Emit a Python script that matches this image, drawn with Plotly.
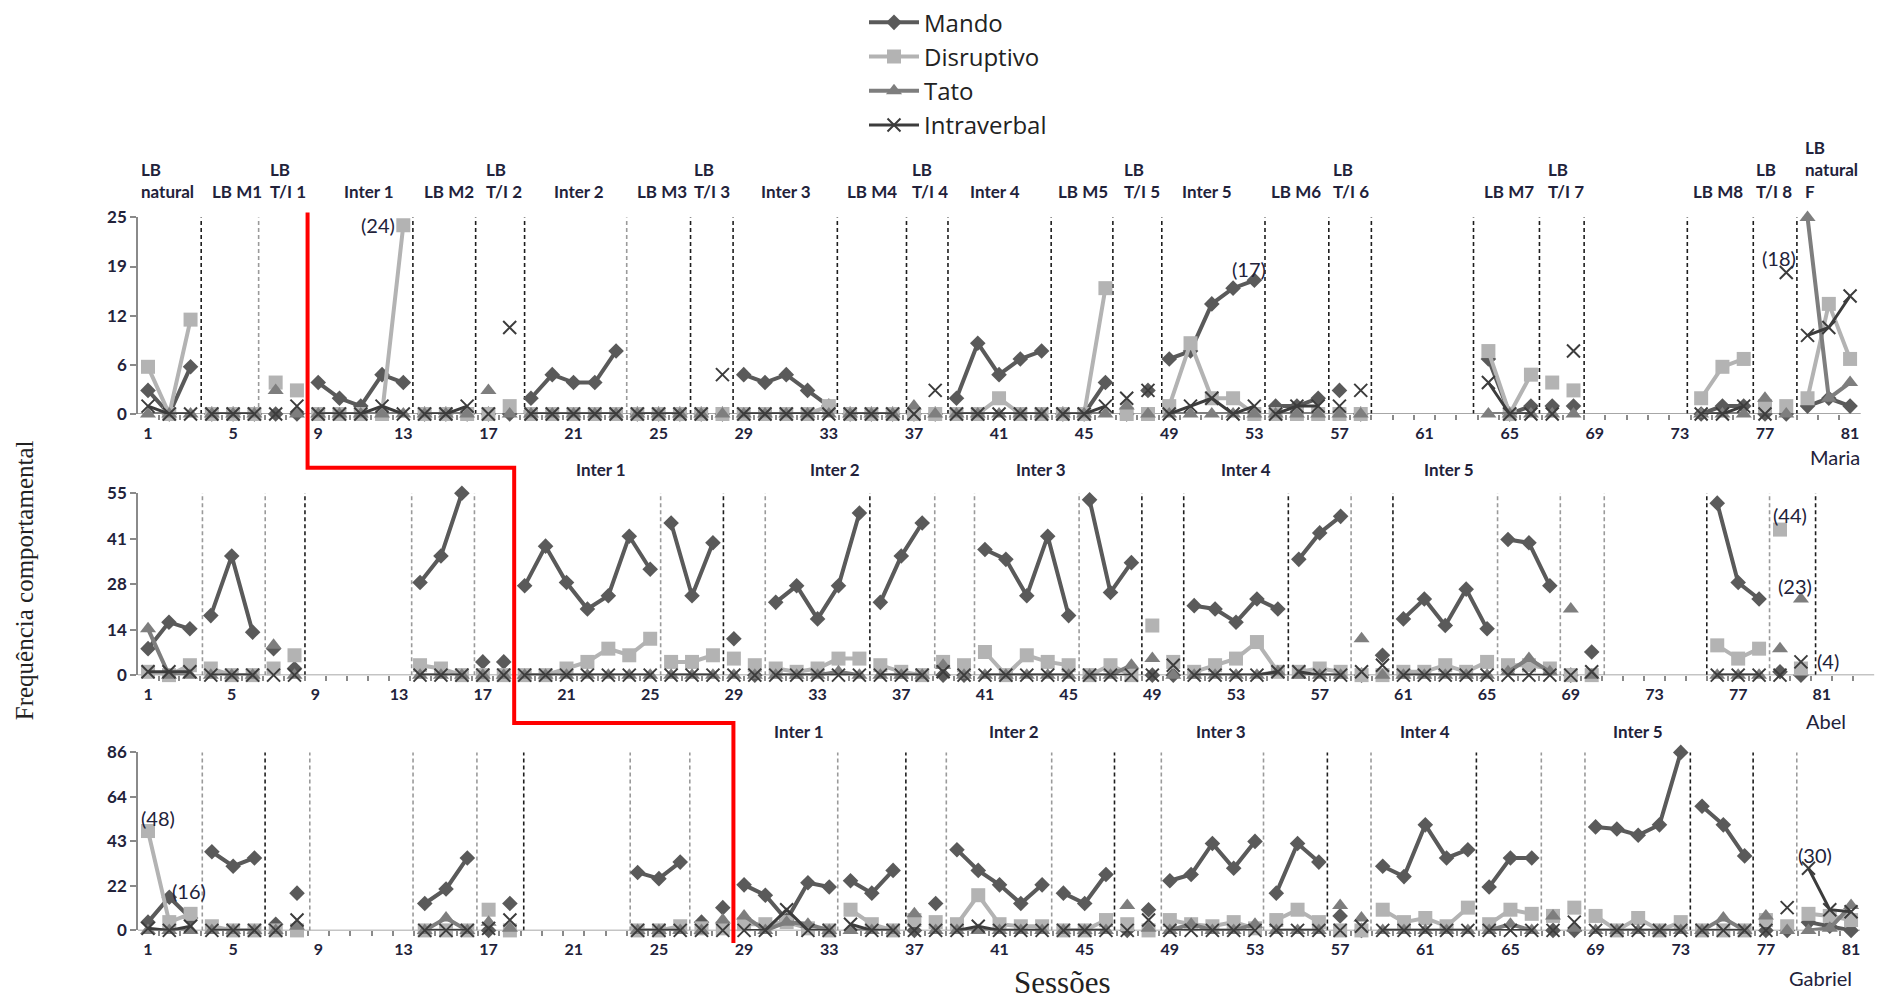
import plotly.graph_objects as go

N = None
W, H = 1891, 1003

sessions = list(range(1, 82))

# ---------------- DATA ----------------
maria_mando = [3,0,6,0,0,0,0,0,4,2, 1,5,4,0,0,0,0,0,2,5, 4,4,8,0,0,0,0,0,5,4,
               5,3,1,0,0,0,0,0,2,9, 5,7,8,0,0,4,0,3,7,8, 14,16,17,1,1,2,3,0,N,N,
               N,N,N,7,0,1,1,1,N,N, N,N,N,0,1,1,0,0,1,2, 1]
maria_disr = [6,0,12,0,0,0,4,3,0,0, 0,0,24,0,0,0,0,1,0,0, 0,0,0,0,0,0,0,0,0,0,
              0,0,1,0,0,0,0,0,0,0, 2,0,0,0,0,16,0,0,1,9, 2,2,0,0,0,0,0,0,N,N,
              N,N,N,8,0,5,4,3,N,N, N,N,N,2,6,7,1,1,2,14, 7]
maria_tato = [0,0,0,0,0,0,3,0,0,0, 0,0,0,0,0,0,3,0,0,0, 0,0,0,0,0,0,0,0,0,0,
              0,0,0,0,0,0,1,0,0,0, 0,0,0,0,0,0,1,0,0,0, 0,0,0,0,0,0,0,0,N,N,
              N,N,N,0,0,0,0,0,N,N, N,N,N,0,0,0,2,0,25,2, 4]
maria_intra = [1,0,0,0,0,0,0,1,0,0, 0,1,0,0,0,1,0,11,0,0, 0,0,0,0,0,0,0,5,0,0,
               0,0,0,0,0,0,0,3,0,0, 0,0,0,0,0,1,2,3,0,1, 2,0,1,0,1,1,1,3,N,N,
               N,N,N,4,0,0,0,8,N,N, N,N,N,0,0,1,0,18,10,11, 15]

abel_mando = [8,16,14,18,36,13,8,2,N,N, N,N,N,28,36,55,4,4,27,39, 28,20,24,42,32,46,24,40,11,0,
              22,27,17,27,49,22,36,46,0,0, 38,35,24,42,18,53,25,34,0,0, 21,20,16,23,20,35,43,48,0,6,
              17,23,15,26,14,41,40,27,0,7, N,N,N,N,N,52,28,23,1,0, N]
abel_disr = [1,0,3,2,0,0,2,6,N,N, N,N,N,3,2,0,0,0,0,0, 2,4,8,6,11,4,4,6,5,3,
             2,1,2,5,5,3,1,0,4,3, 7,0,6,4,3,0,3,0,15,4, 1,3,5,10,1,1,2,1,0,0,
             1,1,3,1,4,3,3,2,0,0, N,N,N,N,N,9,5,8,44,2, N]
abel_tato = [14,0,0,0,0,0,9,0,N,N, N,N,N,0,0,0,0,0,0,0, 0,0,0,0,0,0,0,0,0,0,
             0,0,0,1,0,0,0,0,3,0, 0,0,0,0,0,0,0,3,5,0, 0,0,0,0,1,0,0,0,11,0,
             0,0,0,0,0,1,5,1,20,0, N,N,N,N,N,0,0,0,8,23, N]
abel_intra = [1,1,1,0,0,0,0,0,N,N, N,N,N,0,0,0,0,0,0,0, 0,0,0,0,0,0,0,0,0,0,
              0,0,0,0,0,0,0,0,1,0, 0,0,0,0,0,0,0,0,0,3, 0,0,0,0,1,1,0,0,1,3,
              0,0,0,0,0,0,0,0,0,1, N,N,N,N,N,0,0,0,0,4, N]

gab_mando = [4,16,6,38,31,35,3,18,N,N, N,N,N,13,20,35,0,13,N,N, N,N,N,28,25,33,4,11,22,17,
             5,23,21,24,18,29,0,13,39,29, 22,13,22,18,13,27,0,10,24,27, 42,30,43,18,42,33,7,0,31,26,
             51,35,39,21,35,35,0,0,50,49, 46,51,86,60,51,36,0,0,4,2, 0]
gab_disr = [48,4,8,2,0,0,0,0,N,N, N,N,N,0,0,0,10,0,N,N, N,N,N,0,0,2,1,1,3,3,
            4,1,0,10,3,0,5,4,3,17, 3,2,2,0,0,5,3,0,5,3, 2,4,1,5,10,4,0,0,10,4,
            6,2,11,3,10,8,7,11,7,0, 6,0,4,0,0,0,5,2,8,7, 5]
gab_tato = [0,0,0,0,0,0,0,2,N,N, N,N,N,0,6,0,4,1,N,N, N,N,N,0,0,0,0,5,7,0,
            4,3,0,0,0,0,8,0,0,0, 0,0,0,0,0,0,12,1,0,3, 0,0,3,0,0,0,12,6,0,0,
            0,0,0,0,3,0,7,1,0,0, 0,0,0,0,6,0,7,0,0,1, 12]
gab_intra = [1,0,2,0,0,0,0,5,N,N, N,N,N,0,0,0,1,5,N,N, N,N,N,0,0,0,0,0,0,0,
             10,0,0,3,0,0,0,0,0,2, 0,0,0,0,0,0,0,5,0,0, 0,0,0,0,0,0,0,2,0,0,
             0,0,0,0,0,0,0,4,0,0, 0,0,0,0,0,0,0,11,30,10, 9]

# phase-change lines (session positions) and their tone (k = dark, g = grey)
maria_lines = [3.5, 6.2, 13.45, 16.4, 18.7, 23.5, 26.5, 28.5, 33.4, 36.65, 38.6, 43.45,
               46.35, 48.65, 53.5, 56.5, 58.5, 63.3, 66.4, 68.5, 73.35, 76.45, 78.5]
maria_tone = ['k','g','k','k','k','g','k','k','k','k','k','k','k','k','k','k','k','k','k','k','k','k','k']
abel_lines = [3.6, 6.6, 8.5, 13.6, 16.6, 25.5, 28.5, 30.5, 35.5, 38.6, 40.5, 45.5, 48.5,
              50.5, 55.5, 58.5, 60.5, 65.5, 68.5, 70.6, 75.5, 78.5, 80.7]
abel_tone = ['g','g','k','g','g','g','k','g','k','g','g','g','k','k','k','g','k','g','g','g','k','g','k']
gab_lines = [3.55, 6.5, 8.6, 13.45, 16.45, 18.65, 23.65, 26.45, 33.4, 36.6, 38.5, 43.45,
             46.4, 48.6, 53.4, 56.4, 58.45, 63.4, 66.45, 68.5, 73.45, 76.4, 78.45]
gab_tone = ['g','k','g','g','g','k','g','g','g','k','g','g','k','g','g','k','g','k','g','g','k','k','g']

# red multiple-baseline step (session positions in each panel)
red_steps = [8.5, 18.5, 28.5]

# sessions shown as unconnected points (LB T/I phases)
maria_iso = [7,8,17,18,27,28,37,38,47,48,57,58,67,68,77,78]
abel_iso = [7,8,17,18,29,30,39,40,49,50,59,60,69,70,79,80]
gab_iso = [7,8,17,18,27,28,37,38,47,48,57,58,67,68,77,78]

# phase labels
maria_phase_text = ["LB<br>natural","LB M1","LB<br>T/I 1","Inter 1","LB M2","LB<br>T/I 2","Inter 2",
                    "LB M3","LB<br>T/I 3","Inter 3","LB M4","LB<br>T/I 4","Inter 4","LB M5",
                    "LB<br>T/I 5","Inter 5","LB M6","LB<br>T/I 6","LB M7","LB<br>T/I 7","LB M8",
                    "LB<br>T/I 8","LB<br>natural<br>F"]
maria_phase_x = [0.56, 3.91, 6.63, 10.1, 13.9, 16.8, 20.0, 23.9, 26.55, 29.7, 33.75, 36.8,
                 39.55, 43.7, 46.76, 49.5, 53.7, 56.6, 63.7, 66.7, 73.5, 76.5, 78.8]
inter_text = ["Inter 1","Inter 2","Inter 3","Inter 4","Inter 5"]
abel_inter_x = [22.66, 33.85, 43.66, 53.47, 63.2]
gab_inter_x = [31.6, 41.66, 51.4, 61.0, 71.0]

maria_peaks = [("(24)", 11.8, 24.0), ("(17)", 52.76, 18.5), ("(18)", 77.66, 19.8), ("(25)", 80.44, 25.1)]
abel_peaks = [("(55)", 14.68, 55.3), ("(44)", 79.5, 48.5), ("(23)", 79.7, 26.9), ("(4)", 81.3, 4.4)]
gab_peaks = [("(48)", 1.47, 54.3), ("(16)", 2.93, 18.9), ("(86)", 73.4, 92.2), ("(30)", 79.3, 36.4)]

series_names = ["Mando", "Disruptivo", "Tato", "Intraverbal"]
x_tick_vals = list(range(1, 82, 4))

# ---------------- STYLE ----------------
def fx(p):
    return p / W

def fy(p):
    return 1 - p / H

styles = [
    dict(color="#5a5a5a", symbol="diamond", size=12, lw=4),
    dict(color="#b3b3b3", symbol="square", size=14, lw=4),
    dict(color="#7e7e7e", symbol="triangle-up", size=14, lw=4),
    dict(color="#3c3c3c", symbol="x-thin", size=13, lw=3),
]

panels = [
    dict(ax="", data=[maria_mando, maria_disr, maria_tato, maria_intra], lines=maria_lines, tone=maria_tone,
         iso=maria_iso, xdom=(138, 1862), xr=(0.53, 81.56), ydom=(411, 210), yr=(0, 25),
         yticks=[0, 6.25, 12.5, 18.75, 25], xmax=81.5, red=red_steps[0], name="Maria", name_px=(1835, 455),
         peaks=maria_peaks),
    dict(ax="2", data=[abel_mando, abel_disr, abel_tato, abel_intra], lines=abel_lines, tone=abel_tone,
         iso=abel_iso, xdom=(138, 1875), xr=(0.52, 83.54), ydom=(678, 492), yr=(0, 55),
         yticks=[0, 13.75, 27.5, 41.25, 55], xmax=83.5, red=red_steps[1], name="Abel", name_px=(1826, 725),
         peaks=abel_peaks),
    dict(ax="3", data=[gab_mando, gab_disr, gab_tato, gab_intra], lines=gab_lines, tone=gab_tone,
         iso=gab_iso, xdom=(138, 1860), xr=(0.53, 81.42), ydom=(939, 757), yr=(0, 86),
         yticks=[0, 21.5, 43, 64.5, 86], xmax=81.5, red=red_steps[2], name="Gabriel", name_px=(1820, 988),
         peaks=gab_peaks),
]

def data_to_px(p, s):
    d0, d1 = p["xdom"]
    r0, r1 = p["xr"]
    return d0 + (s - r0) / (r1 - r0) * (d1 - d0)

def build_xy(values, bounds, iso):
    xs, ys = [], []
    prev = None
    for s, v in zip(sessions, values):
        if v is None:
            prev = None
            continue
        ph = ("iso", s) if s in iso else sum(1 for b in bounds if b < s)
        if xs and (prev is None or ph != prev):
            xs.append(s - 0.5)
            ys.append(None)
        xs.append(s)
        ys.append(v)
        prev = ph
    return xs, ys

fig = go.Figure()
text_col = "#22223a"
tick_font = dict(family="Lato", size=16, color=text_col, weight="bold")
shapes = []
annotations = []

for pi, p in enumerate(panels):
    xa, ya = "x" + p["ax"], "y" + p["ax"]
    bounds = sorted(p["lines"] + [p["red"]])
    for si, vals in enumerate(p["data"]):
        st = styles[si]
        xs, ys = build_xy(vals, bounds, p["iso"])
        fig.add_trace(go.Scatter(
            x=xs, y=ys, mode="lines+markers", name=series_names[si],
            legendgroup=series_names[si], showlegend=(pi == 0),
            xaxis=xa, yaxis=ya, cliponaxis=False,
            line=dict(color=st["color"], width=st["lw"]),
            marker=dict(symbol=st["symbol"], size=st["size"], color=st["color"],
                        line=dict(color=st["color"], width=2 if st["symbol"] == "x-thin" else 0)),
        ))
    # phase lines
    for pos, tn in zip(p["lines"], p["tone"]):
        shapes.append(dict(type="line", xref=xa, yref=ya, x0=pos, x1=pos, y0=0, y1=p["yr"][1] * 1.02,
                           line=dict(color="#1e1e1e" if tn == "k" else "#9a9a9a", width=1.6, dash="4px,3px"),
                           layer="below"))
    lay_x = "xaxis" + p["ax"]
    lay_y = "yaxis" + p["ax"]
    fig.update_layout({
        lay_x: dict(domain=[fx(p["xdom"][0]), fx(p["xdom"][1])], range=list(p["xr"]), anchor=ya,
                    showgrid=False, zeroline=False, showline=False,
                    tickmode="array", tickvals=x_tick_vals, ticktext=[str(v) for v in x_tick_vals],
                    ticks="", tickfont=tick_font, ticklabelstandoff=8,
                    minor=dict(tickmode="array", tickvals=[k + 0.5 for k in range(0, int(p["xmax"]))],
                               ticks="outside", ticklen=5, tickcolor="#8a8a8a", tickwidth=1.5, showgrid=False)),
        lay_y: dict(domain=[fy(p["ydom"][0]), fy(p["ydom"][1])], range=list(p["yr"]), anchor=xa,
                    showgrid=False, zeroline=False, showline=True, linecolor="#8a8a8a", linewidth=1.5,
                    tickmode="array", tickvals=p["yticks"], ticktext=[str(round(v)) for v in p["yticks"]],
                    ticks="outside", ticklen=6, tickcolor="#8a8a8a", tickwidth=1.5,
                    tickfont=dict(family="Lato", size=17, color=text_col, weight="bold")),
    })
    # x axis line at zero across the range
    shapes.append(dict(type="line", xref=xa, yref=ya, x0=p["xr"][0], x1=p["xmax"], y0=0, y1=0,
                       line=dict(color="#8a8a8a", width=1.5), layer="below"))
    # panel name
    annotations.append(dict(text=p["name"], x=fx(p["name_px"][0]), y=fy(p["name_px"][1]), xref="paper", yref="paper",
                            showarrow=False, xanchor="center", yanchor="middle",
                            font=dict(family="Lato", size=20, color=text_col)))
    for txt, px_, py_ in p["peaks"]:
        annotations.append(dict(text=txt, x=px_, y=py_, xref=xa, yref=ya, showarrow=False,
                                xanchor="center", yanchor="middle",
                                font=dict(family="Lato", size=20, color=text_col)))

# top phase labels
for txt, xs in zip(maria_phase_text, maria_phase_x):
    annotations.append(dict(text=txt, x=xs, y=fy(196), xref="x", yref="paper", showarrow=False,
                            xanchor="left", yanchor="bottom", align="left",
                            font=dict(family="Lato", size=17, color=text_col, weight="bold")))
for txt, xs in zip(inter_text, abel_inter_x):
    annotations.append(dict(text=txt, x=xs, y=fy(468), xref="x2", yref="paper", showarrow=False,
                            xanchor="center", yanchor="middle",
                            font=dict(family="Lato", size=17, color=text_col, weight="bold")))
for txt, xs in zip(inter_text, gab_inter_x):
    annotations.append(dict(text=txt, x=xs, y=fy(736), xref="x3", yref="paper", showarrow=False,
                            xanchor="center", yanchor="middle",
                            font=dict(family="Lato", size=17, color=text_col, weight="bold")))

# axis titles
annotations.append(dict(text="Frequência comportamental", x=fx(24), y=fy(581), xref="paper", yref="paper",
                        showarrow=False, textangle=-90, xanchor="center", yanchor="middle",
                        font=dict(family="Liberation Serif", size=25, color="#222")))
annotations.append(dict(text="Sessões", x=fx(1062), y=fy(992), xref="paper", yref="paper",
                        showarrow=False, xanchor="center", yanchor="middle",
                        font=dict(family="Liberation Serif", size=31, color="#222")))

# red step line across the panels
xa_px = data_to_px(panels[0], red_steps[0])
xb_px = data_to_px(panels[1], red_steps[1])
xc_px = data_to_px(panels[2], red_steps[2])
pts = [(xa_px, 205), (xa_px, 466), (xb_px, 466), (xb_px, 727), (xc_px, 727), (xc_px, 952)]
path = "M " + " L ".join(f"{fx(a):.5f},{fy(b):.5f}" for a, b in pts)
shapes.append(dict(type="path", path=path, xref="paper", yref="paper",
                   line=dict(color="#ff0000", width=4)))

fig.update_layout(
    width=W, height=H, margin=dict(l=0, r=0, t=0, b=0),
    paper_bgcolor="white", plot_bgcolor="white",
    shapes=shapes, annotations=annotations,
    legend=dict(x=fx(864), y=1.012, xanchor="left", yanchor="top", itemwidth=50,
                font=dict(family="Open Sans", size=24, color="#222"), bgcolor="rgba(0,0,0,0)",
                tracegroupgap=0),
    showlegend=True,
)

fig.write_html("out.html")
